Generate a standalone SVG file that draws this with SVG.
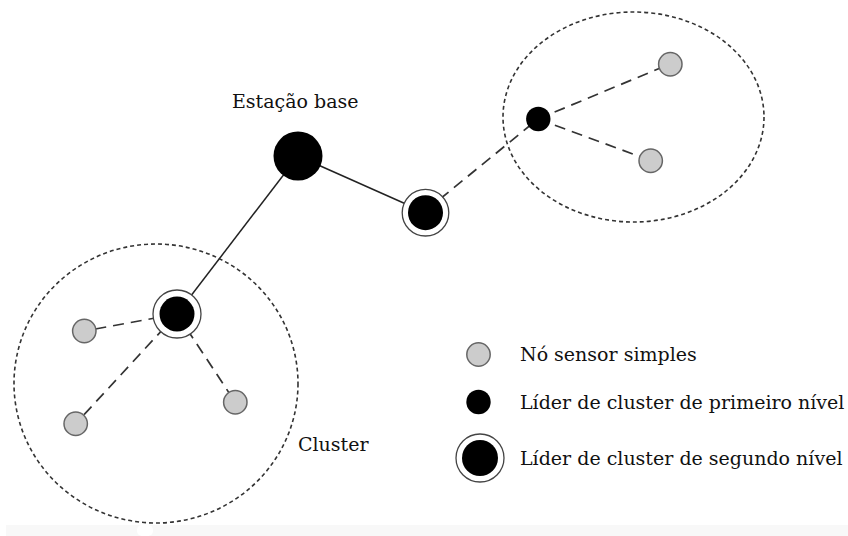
<svg xmlns="http://www.w3.org/2000/svg" width="848" height="536" viewBox="0 0 848 536">
  <style>
    .lbl { font-family: "DejaVu Serif", "Liberation Serif", serif; font-size: 19px; fill: #111; }
    .cluster { fill: none; stroke: #333; stroke-width: 1.6; stroke-dasharray: 4 3; }
    .link { stroke: #222; stroke-width: 1.5; fill: none; }
    .radio { stroke: #333; stroke-width: 1.7; fill: none; stroke-dasharray: 11 7; }
    .sensor { fill: #cccccc; stroke: #666; stroke-width: 1.5; }
    .head { fill: #000; }
    .ring { fill: #fff; stroke: #444; stroke-width: 1.3; }
  </style>
  <rect width="848" height="536" fill="#fff"/>
  <!-- faint strip along the bottom edge -->
  <g id="strip">
    <rect x="6" y="525" width="842" height="11" fill="#f8f8f8"/>
    <rect x="137" y="525" width="16" height="11" rx="5" fill="#fff"/>
  </g>

  <!-- cluster boundaries -->
  <g id="clusters">
    <ellipse class="cluster" cx="156" cy="383.5" rx="142" ry="139.5"/>
    <ellipse class="cluster" cx="633.5" cy="117" rx="130.5" ry="105"/>
  </g>

  <!-- connectors -->
  <g id="connectors">
    <line class="link" x1="298" y1="156" x2="177" y2="314"/>
    <line class="link" x1="298" y1="156" x2="425.5" y2="212.7"/>
    <line class="radio" x1="440" y1="199" x2="538" y2="119"/>
    <line class="radio" x1="538" y1="119" x2="670" y2="64"/>
    <line class="radio" x1="538" y1="119" x2="650.5" y2="160.5"/>
    <line class="radio" x1="177" y1="314" x2="84.3" y2="331"/>
    <line class="radio" x1="177" y1="314" x2="75.7" y2="423.7"/>
    <line class="radio" x1="177" y1="314" x2="235.3" y2="402.3"/>
  </g>

  <!-- base station -->
  <g id="base-station">
    <circle class="head" cx="298" cy="156" r="24.5"/>
    <text class="lbl" x="232" y="108">Estação base</text>
  </g>

  <!-- second-level leaders -->
  <g id="leader2-right">
    <circle class="ring" cx="425.5" cy="212.7" r="23.3"/>
    <circle class="head" cx="425.5" cy="212.7" r="17.5"/>
  </g>
  <g id="leader2-left">
    <circle class="ring" cx="177" cy="314" r="24"/>
    <circle class="head" cx="177" cy="314" r="17.5"/>
  </g>

  <!-- first-level leader -->
  <g id="leader1">
    <circle class="head" cx="538.3" cy="119" r="12.2"/>
  </g>

  <!-- simple sensor nodes -->
  <g id="sensor-a"><circle class="sensor" cx="670.3" cy="64.3" r="11.7"/></g>
  <g id="sensor-b"><circle class="sensor" cx="650.7" cy="160.7" r="11.7"/></g>
  <g id="sensor-c"><circle class="sensor" cx="84.3" cy="331" r="11.7"/></g>
  <g id="sensor-d"><circle class="sensor" cx="75.7" cy="423.7" r="11.7"/></g>
  <g id="sensor-e"><circle class="sensor" cx="235.3" cy="402.3" r="11.7"/></g>

  <g id="cluster-label">
    <text class="lbl" x="298" y="451">Cluster</text>
  </g>

  <!-- legend -->
  <g id="legend">
    <g id="legend-sensor">
      <circle class="sensor" cx="478.5" cy="354.5" r="11.7"/>
      <text class="lbl" x="520" y="361">Nó sensor simples</text>
    </g>
    <g id="legend-leader1">
      <circle class="head" cx="478.5" cy="402" r="12.2"/>
      <text class="lbl" x="520" y="409">Líder de cluster de primeiro nível</text>
    </g>
    <g id="legend-leader2">
      <circle class="ring" cx="480" cy="458" r="24"/>
      <circle class="head" cx="480" cy="458" r="18"/>
      <text class="lbl" x="520" y="465">Líder de cluster de segundo nível</text>
    </g>
  </g>
</svg>
